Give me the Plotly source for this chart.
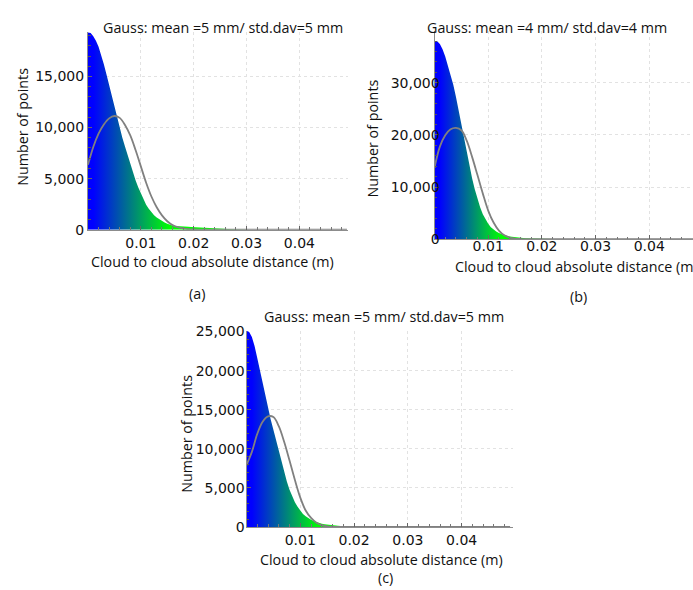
import plotly.graph_objects as go

W, H = 693, 590

# ---------------- data ----------------
STEP = 0.0005  # histogram sampling step (m)

# (a) Gauss: mean =5 mm / std.dav=5 mm
counts_a = [19300, 19250, 18950, 18500, 17900, 17150, 16200, 15200, 14150, 13050,
            11950, 10900, 9900, 9000, 8150, 7300, 6450, 5650, 4850, 4150,
            3550, 2950, 2450, 2050, 1700, 1420, 1200, 1010, 850, 710,
            590, 490, 420, 370, 340, 320, 305, 295, 285, 275,
            265, 255, 245, 232, 220, 205, 190, 172, 155, 137,
            118, 100, 82, 66, 52, 40, 29, 20, 12, 6, 2, 0]
# (b) Gauss: mean =4 mm / std.dav=4 mm
counts_b = [38000, 37950, 37450, 36450, 35050, 33400, 31650, 29650, 27300, 24650,
            21900, 19150, 16500, 14000, 11700, 9600, 7750, 6150, 4800, 3750,
            2950, 2320, 1850, 1490, 1200, 980, 800, 655, 540, 450,
            375, 315, 270, 232, 200, 172, 150, 130, 112, 97,
            85, 75, 65, 56, 48, 41, 35, 29, 24, 20,
            16, 12, 8, 6, 4, 2, 1, 0]
# (c) Gauss: mean =5 mm / std.dav=5 mm
counts_c = [25100, 24950, 24300, 23150, 21600, 19950, 18250, 16600, 15100, 13750,
            12450, 11100, 9700, 8350, 7050, 5800, 4750, 3900, 3150, 2570,
            2070, 1670, 1360, 1110, 910, 750, 620, 510, 420, 350,
            295, 250, 212, 180, 152, 130, 110, 92, 78, 66,
            55, 46, 38, 31, 25, 20, 15, 11, 8, 6, 4, 2, 1, 0]

# fitted Gauss curves (sampled every 1 mm)
gauss_x = [0.000, 0.001, 0.002, 0.003, 0.004, 0.005, 0.006, 0.007, 0.008, 0.009,
           0.010, 0.011, 0.012, 0.013, 0.014, 0.015, 0.016, 0.017, 0.018, 0.019,
           0.020, 0.021, 0.022, 0.030, 0.040, 0.049]
gauss_a = [6350, 8100, 9400, 10300, 10900, 11130, 10950, 10250, 9230, 7800,
           6200, 4600, 3250, 2200, 1400, 830, 450, 250, 120, 50,
           20, 5, 0, 0, 0, 0]
gauss_b = [13700, 17760, 19950, 21100, 21360, 20900, 18900, 15800, 12300, 8750,
           5500, 3200, 1650, 750, 320, 110, 35, 10, 0, 0,
           0, 0, 0, 0, 0, 0]
gauss_c = [7920, 9600, 11900, 13450, 14150, 14050, 12900, 10900, 8500, 6000,
           3750, 2100, 1150, 530, 220, 70, 20, 5, 0, 0,
           0, 0, 0, 0, 0, 0]

titles = ["Gauss: mean =5 mm/ std.dav=5 mm",
          "Gauss: mean =4 mm/ std.dav=4 mm",
          "Gauss: mean =5 mm/ std.dav=5 mm"]
panel_labels = ["(a)", "(b)", "(c)"]
x_title = "Cloud to cloud absolute distance (m)"
y_title = "Number of points"
x_ticks = [0.01, 0.02, 0.03, 0.04]
x_ticktext = ["0.01", "0.02", "0.03", "0.04"]
y_ticks_a = [0, 5000, 10000, 15000]
y_ticks_b = [0, 10000, 20000, 30000]
y_ticks_c = [0, 5000, 10000, 15000, 20000, 25000]

# ---------------- layout geometry (pixels) ----------------
def px(x):
    return x / W

def py(y):
    return 1 - y / H

panels = [
    dict(counts=counts_a, gauss=gauss_a, dom_x=(88, 348), dom_y=(25.5, 228.5),
         xr=[0, 0.0492], yr=[0, 19370], yt=y_ticks_a, ydt=1000,
         grad=(0.001, 0.0155), ystand=0, xstand=1),
    dict(counts=counts_b, gauss=gauss_b, dom_x=(434.5, 693), dom_y=(25, 238.3),
         xr=[0, 0.04814], yr=[0, 39870], yt=y_ticks_b, ydt=2000,
         grad=(0.001, 0.0125), ystand=-9, xstand=-6),
    dict(counts=counts_c, gauss=gauss_c, dom_x=(246.5, 513.3), dom_y=(332, 533.5),
         xr=[0, 0.0496], yr=[0, 25125], yt=y_ticks_c, ydt=1000,
         grad=(0.001, 0.0135), ystand=-2, xstand=0),
]

GRAD = [[0.0, "rgb(0,0,255)"], [1.0, "rgb(0,255,0)"]]
TICKFONT = dict(family="DejaVu Sans", size=14, color="#111111")
TEXTFONT = dict(family="Open Sans", size=14.3, color="#111111")

fig = go.Figure()
layout = dict(width=W, height=H, margin=dict(l=0, r=0, t=0, b=0),
              paper_bgcolor="white", plot_bgcolor="white", showlegend=False)

for i, p in enumerate(panels):
    sfx = "" if i == 0 else str(i + 1)
    xa, ya = "x" + sfx, "y" + sfx
    hx = [STEP * k for k in range(len(p["counts"]))]
    fig.add_trace(go.Scatter(
        x=hx, y=p["counts"], xaxis=xa, yaxis=ya, mode="lines",
        line=dict(width=0, color="rgba(0,0,0,0)"), fill="tozeroy",
        fillgradient=dict(type="horizontal", colorscale=GRAD,
                          start=p["grad"][0], stop=p["grad"][1]),
        hoverinfo="skip"))
    fig.add_trace(go.Scatter(
        x=gauss_x, y=p["gauss"], xaxis=xa, yaxis=ya, mode="lines",
        line=dict(color="rgb(128,128,128)", width=1.8, shape="spline"),
        hoverinfo="skip"))
    layout["xaxis" + sfx] = dict(
        domain=[px(p["dom_x"][0]), px(p["dom_x"][1])], anchor=ya,
        range=p["xr"], tickvals=x_ticks, ticktext=x_ticktext,
        ticks="inside", ticklen=4, tickcolor="#666", tickfont=TICKFONT,
        ticklabelstandoff=p["xstand"],
        showgrid=True, gridcolor="rgb(226,226,226)", griddash="dot", gridwidth=1,
        showline=True, linecolor="rgb(140,140,140)", linewidth=1,
        zeroline=False, fixedrange=True,
        minor=dict(dtick=0.002, ticks="inside", ticklen=2.5, tickcolor="#777",
                   showgrid=False))
    layout["yaxis" + sfx] = dict(
        domain=[py(p["dom_y"][1]), py(p["dom_y"][0])], anchor=xa,
        range=p["yr"], tickvals=p["yt"], tickformat=",",
        ticks="inside", ticklen=4, tickcolor="#666", tickfont=TICKFONT,
        ticklabelstandoff=p["ystand"],
        showgrid=True, gridcolor="rgb(226,226,226)", griddash="dot", gridwidth=1,
        showline=True, linecolor="rgb(140,140,140)", linewidth=1,
        zeroline=False, fixedrange=True,
        minor=dict(dtick=p["ydt"], ticks="inside", ticklen=2.5, tickcolor="#555",
                   showgrid=False))

ann = []
def text(t, x, y, angle=0, xanchor="center"):
    ann.append(dict(text=t, x=px(x), y=py(y), xref="paper", yref="paper",
                    showarrow=False, font=TEXTFONT, textangle=angle,
                    xanchor=xanchor, yanchor="middle"))

# panel titles
text(titles[0], 223, 21)
text(titles[1], 547, 21)
text(titles[2], 384, 318)
# x axis titles
text(x_title, 212, 261)
text(x_title, 453, 266, xanchor="left")
text(x_title, 382, 567)
# y axis titles
text(y_title, 23, 123, angle=-90)
text(y_title, 373, 135, angle=-90)
text(y_title, 187, 438, angle=-90)
# panel labels
text(panel_labels[0], 197, 294)
text(panel_labels[1], 578, 297)
text(panel_labels[2], 385, 585)

layout["annotations"] = ann
fig.update_layout(**layout)
fig.write_html("out.html")
